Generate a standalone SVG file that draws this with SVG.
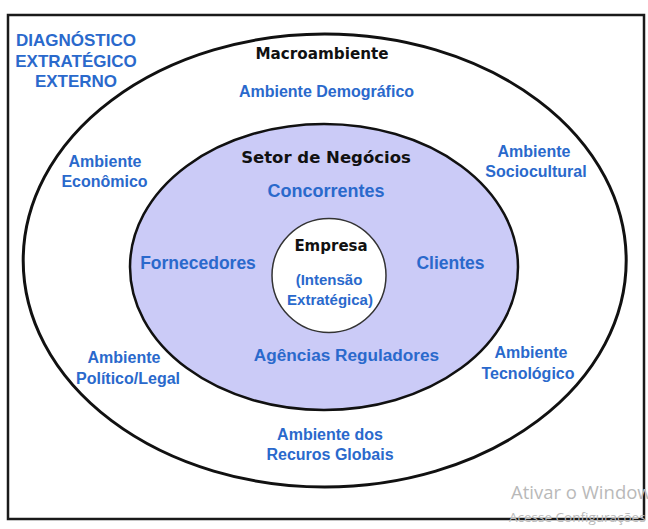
<svg xmlns="http://www.w3.org/2000/svg" width="648" height="529" viewBox="0 0 648 529">
<style>
.blue{font-family:"Liberation Sans",Arial,sans-serif;font-weight:bold;fill:#2a69cc;text-anchor:middle}
.blk{font-family:"DejaVu Sans",Verdana,sans-serif;font-weight:bold;fill:#111;text-anchor:middle}
.wm{font-family:"Open Sans","Noto Sans",sans-serif;fill:#b9b9b9}
</style>
<rect x="0" y="0" width="648" height="529" fill="#ffffff"/>
<rect id="frame" x="8" y="15" width="636" height="504" fill="#ffffff" stroke="#1a1a1a" stroke-width="2.5"/>
<g id="macroambiente">
<ellipse cx="324.7" cy="260.5" rx="301.5" ry="226.5" fill="#ffffff" stroke="#111" stroke-width="3"/>
<text class="blk" x="322" y="58.5" font-size="15.2">Macroambiente</text>
</g>
<g id="diagnostico">
<text class="blue" x="76" y="45.7" font-size="17">DIAGNÓSTICO</text>
<text class="blue" x="76" y="66.7" font-size="17">EXTRATÉGICO</text>
<text class="blue" x="76" y="87.3" font-size="17">EXTERNO</text>
</g>
<g id="demografico"><text class="blue" x="326.5" y="96.5" font-size="16">Ambiente Demográfico</text></g>
<g id="economico">
<text class="blue" x="105" y="166.7" font-size="16">Ambiente</text>
<text class="blue" x="104.5" y="186.7" font-size="16">Econômico</text>
</g>
<g id="sociocultural">
<text class="blue" x="534" y="157" font-size="16">Ambiente</text>
<text class="blue" x="536" y="177" font-size="16">Sociocultural</text>
</g>
<g id="politico">
<text class="blue" x="124" y="363" font-size="16">Ambiente</text>
<text class="blue" x="128" y="384" font-size="16">Político/Legal</text>
</g>
<g id="tecnologico">
<text class="blue" x="531" y="358" font-size="16">Ambiente</text>
<text class="blue" x="528" y="379" font-size="16">Tecnológico</text>
</g>
<g id="recursos">
<text class="blue" x="330" y="440" font-size="16">Ambiente dos</text>
<text class="blue" x="330" y="460" font-size="16">Recuros Globais</text>
</g>
<g id="setor">
<ellipse cx="324" cy="267" rx="194" ry="143" fill="#cbcbf7" stroke="#111" stroke-width="2.5"/>
<text class="blk" x="326" y="162.7" font-size="16.5">Setor de Negócios</text>
</g>
<g id="concorrentes"><text class="blue" x="326" y="197.3" font-size="18">Concorrentes</text></g>
<g id="fornecedores"><text class="blue" x="198" y="269.3" font-size="17.5">Fornecedores</text></g>
<g id="clientes"><text class="blue" x="450.5" y="269.3" font-size="17.5">Clientes</text></g>
<g id="agencias"><text class="blue" x="346.5" y="360.7" font-size="17.2">Agências Reguladores</text></g>
<g id="empresa">
<circle cx="329" cy="275.5" r="57" fill="#ffffff" stroke="#333" stroke-width="1.5"/>
<text class="blk" x="331" y="250.7" font-size="15">Empresa</text>
<text class="blue" x="329" y="285" font-size="15">(Intensão</text>
<text class="blue" x="330" y="305" font-size="15">Extratégica)</text>
</g>
<g id="connectors"/>
<g id="watermark">
<text class="wm" x="511" y="499" font-size="18.5">Ativar o Windows</text>
<text class="wm" x="509" y="522" font-size="13.5">Acesse Configurações</text>
</g>
</svg>
